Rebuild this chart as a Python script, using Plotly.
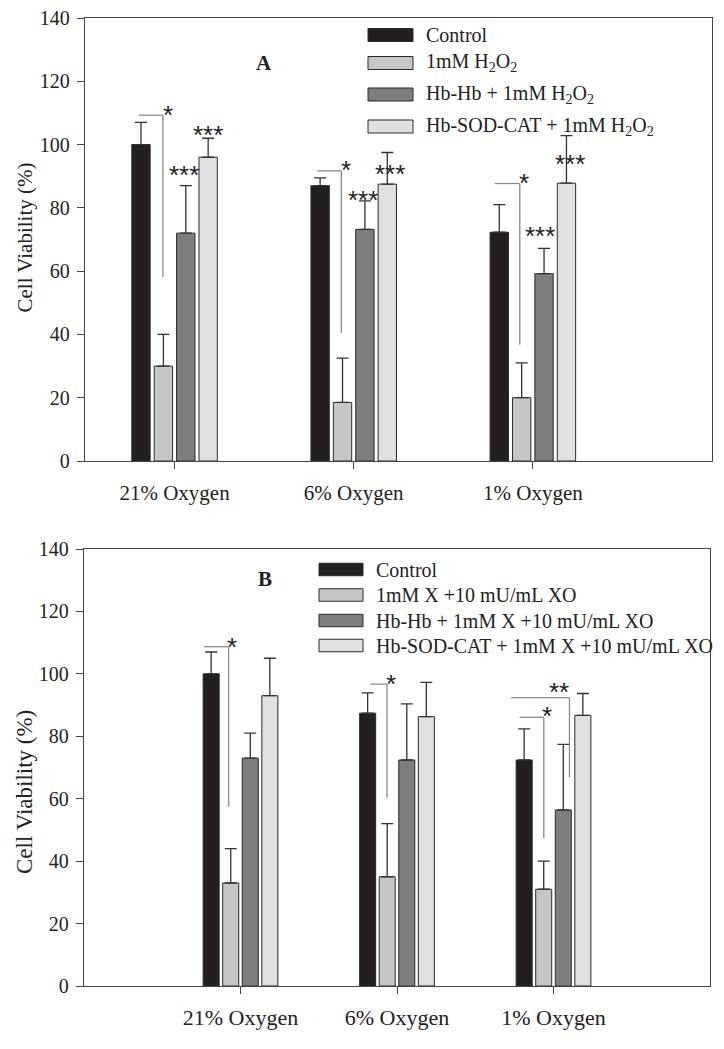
import plotly.graph_objects as go

# ---------------- data ----------------
categories = ["21% Oxygen", "6% Oxygen", "1% Oxygen"]

series_A = ["Control", "1mM H<sub>2</sub>O<sub>2</sub>", "Hb-Hb + 1mM H<sub>2</sub>O<sub>2</sub>",
            "Hb-SOD-CAT + 1mM H<sub>2</sub>O<sub>2</sub>"]
a_control = [100, 87, 72.3]
a_control_err = [7, 2.5, 8.7]
a_h2o2 = [30, 18.5, 20]
a_h2o2_err = [10, 14, 11]
a_hbhb = [72, 73.2, 59.2]
a_hbhb_err = [15, 9, 8]
a_sod = [96, 87.5, 87.8]
a_sod_err = [6, 10, 15]

series_B = ["Control", "1mM X +10 mU/mL XO", "Hb-Hb + 1mM X +10 mU/mL XO",
            "Hb-SOD-CAT + 1mM X +10 mU/mL XO"]
b_control = [100, 87.4, 72.4]
b_control_err = [7, 6.5, 10]
b_xo = [33, 35, 31]
b_xo_err = [11, 17, 9]
b_hbhb = [73, 72.4, 56.4]
b_hbhb_err = [8, 18, 21]
b_sod = [93, 86.3, 86.7]
b_sod_err = [12, 11, 7]

y_title = "Cell Viability (%)"

# significance brackets: (x start, x end, y top, y bottom) in category / value units
brackets_A = [(-0.20, -0.065, 109.3, 58.2), (0.795, 0.931, 91.7, 40.5), (1.788, 1.927, 87.7, 36.7)]
brackets_B = [(-0.234, -0.076, 108.7, 57.4), (0.83, 0.936, 96.7, 60.3),
              (1.783, 1.938, 86.1, 47.3), (1.73, 2.102, 92.4, 66.9)]
# significance stars: (x, y, text)
stars_A = [(-0.039, 111.6, "*"), (0.05, 92.6, "***"), (0.184, 105.3, "***"),
           (0.955, 94.2, "*"), (1.05, 84.7, "***"), (1.2, 93.0, "***"),
           (1.95, 90.0, "*"), (2.04, 73.3, "***"), (2.21, 96.2, "***")]
stars_B = [(-0.053, 111.0, "*"), (0.962, 99.1, "*"), (1.96, 88.7, "*"), (2.038, 96.4, "**")]

# ---------------- style ----------------
colors = ["#231f20", "#c6c6c6", "#7e7e7e", "#e0e0e0"]
SERIF = "Liberation Serif, Times New Roman, serif"
SANS = "Liberation Sans, Arial, sans-serif"
PAGE_MARGIN = 8  # default body margin of the html page
W, H = 724 - 2 * PAGE_MARGIN, 1049 - 2 * PAGE_MARGIN


def px(xp):
    return (xp - PAGE_MARGIN) / W


def py(yp):
    return 1 - (yp - PAGE_MARGIN) / H


fig = go.Figure()

A_vals = [(a_control, a_control_err), (a_h2o2, a_h2o2_err), (a_hbhb, a_hbhb_err), (a_sod, a_sod_err)]
B_vals = [(b_control, b_control_err), (b_xo, b_xo_err), (b_hbhb, b_hbhb_err), (b_sod, b_sod_err)]

for i, (vals, err) in enumerate(A_vals):
    fig.add_trace(go.Bar(
        x=categories, y=vals, name=series_A[i], xaxis="x", yaxis="y", showlegend=False,
        marker=dict(color=colors[i], line=dict(color="#2a2a2a", width=1)),
        error_y=dict(type="data", array=err, arrayminus=[0] * len(err), symmetric=False,
                     color="#333333", thickness=1.3, width=6),
        offsetgroup=str(i)))

for i, (vals, err) in enumerate(B_vals):
    fig.add_trace(go.Bar(
        x=categories, y=vals, name=series_B[i], xaxis="x2", yaxis="y2", showlegend=False,
        marker=dict(color=colors[i], line=dict(color="#2a2a2a", width=1)),
        error_y=dict(type="data", array=err, arrayminus=[0] * len(err), symmetric=False,
                     color="#333333", thickness=1.3, width=6),
        offsetgroup=str(i)))

shapes = []
annotations = []

for (xr, yr, brs, sts) in [("x", "y", brackets_A, stars_A), ("x2", "y2", brackets_B, stars_B)]:
    for (x0, x1, yt, yb) in brs:
        shapes.append(dict(type="line", xref=xr, yref=yr, x0=x0, x1=x1, y0=yt, y1=yt,
                           line=dict(color="#8a8a8a", width=1.3)))
        shapes.append(dict(type="line", xref=xr, yref=yr, x0=x1, x1=x1, y0=yt, y1=yb,
                           line=dict(color="#8a8a8a", width=1.3)))
    for (sx, sy, st) in sts:
        annotations.append(dict(x=sx, y=sy, xref=xr, yref=yr, text=st, showarrow=False,
                                font=dict(family=SANS, size=26, color="#222"),
                                xanchor="center", yanchor="middle", yshift=-7))

# manual legends
legend_A_rows = [35, 63, 94.5, 126.5]
legend_B_rows = [569.5, 595, 620.5, 645.5]
for rows, names, bx0, bx1, tx, bh in [(legend_A_rows, series_A, 368, 413, 424, 13),
                                      (legend_B_rows, series_B, 319, 363, 374, 12.5)]:
    for i, (r, nm) in enumerate(zip(rows, names)):
        shapes.append(dict(type="rect", xref="paper", yref="paper",
                           x0=px(bx0), x1=px(bx1), y0=py(r - bh / 2), y1=py(r + bh / 2),
                           fillcolor=colors[i], line=dict(color="#2a2a2a", width=1)))
        annotations.append(dict(x=px(tx), y=py(r), xref="paper", yref="paper", text=nm,
                                showarrow=False, xanchor="left", yanchor="middle",
                                font=dict(family=SERIF, size=20, color="#222")))

# panel letters
annotations.append(dict(x=px(264), y=py(49), xref="paper", yref="paper", text="<b>A</b>",
                        showarrow=False, font=dict(family=SERIF, size=21, color="#222")))
annotations.append(dict(x=px(265), y=py(579), xref="paper", yref="paper", text="<b>B</b>",
                        showarrow=False, font=dict(family=SERIF, size=21, color="#222")))

# y-axis titles
annotations.append(dict(x=px(24), y=py(237.5), xref="paper", yref="paper", text=y_title,
                        textangle=-90, showarrow=False, xanchor="center", yanchor="middle",
                        font=dict(family=SERIF, size=21, color="#222")))
annotations.append(dict(x=px(24), y=py(792), xref="paper", yref="paper", text=y_title,
                        textangle=-90, showarrow=False, xanchor="center", yanchor="middle",
                        font=dict(family=SERIF, size=23, color="#222")))

axis_common = dict(showline=True, mirror=True, linecolor="#444", linewidth=1.3, automargin=False,
                   ticks="outside", ticklen=7, tickcolor="#444", showgrid=False, zeroline=False,
                   ticklabeloverflow="allow")

fig.update_layout(
    width=W, height=H, margin=dict(l=0, r=0, t=0, b=0),
    plot_bgcolor="white", paper_bgcolor="white",
    barmode="group", bargap=0.5, bargroupgap=0.18,
    xaxis=dict(domain=[px(85), px(712)], anchor="y", type="category", categoryarray=categories,
               range=[-0.5, 3.0], ticklabelstandoff=6,
               tickfont=dict(family=SERIF, size=21, color="#222"), **axis_common),
    yaxis=dict(domain=[py(461), py(18)], anchor="x", range=[0, 140], dtick=20, ticklabelstandoff=3,
               tickfont=dict(family=SERIF, size=20, color="#222"), **axis_common),
    xaxis2=dict(domain=[px(84), px(710)], anchor="y2", type="category", categoryarray=categories,
                range=[-1, 3], ticklabelstandoff=4,
                tickfont=dict(family=SERIF, size=22, color="#222"), **axis_common),
    yaxis2=dict(domain=[py(986), py(549)], anchor="x2", range=[0, 140], dtick=20, ticklabelstandoff=3,
                tickfont=dict(family=SERIF, size=20, color="#222"), **axis_common),
    shapes=shapes, annotations=annotations,
)

fig.write_html("out.html")
